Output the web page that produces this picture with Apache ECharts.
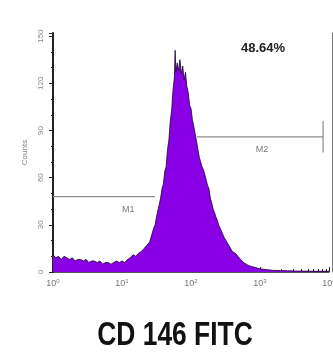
<!DOCTYPE html>
<html>
<head>
<meta charset="utf-8">
<script src="https://cdn.jsdelivr.net/npm/echarts@6/dist/echarts.min.js"></script>
<style>
  html, body { margin: 0; padding: 0; background: #fff; }
  #chart { width: 333px; height: 362px; }
</style>
</head>
<body>
<div id="chart"></div>
<script>
// 荧光强度（log10）与计数
var logBins = [
  0.00, 0.04, 0.08, 0.12, 0.16, 0.20, 0.24, 0.28, 0.32, 0.36,
  0.40, 0.44, 0.48, 0.52, 0.56, 0.60, 0.64, 0.68, 0.72, 0.76,
  0.80, 0.84, 0.88, 0.92, 0.96, 1.00, 1.04, 1.08, 1.12, 1.16,
  1.20, 1.24, 1.28, 1.32, 1.36,
  1.40, 1.42, 1.44, 1.46, 1.48, 1.50, 1.52, 1.54, 1.56, 1.58,
  1.60, 1.62, 1.64, 1.66, 1.68, 1.70, 1.72, 1.74, 1.76, 1.77,
  1.78, 1.80, 1.82, 1.84, 1.86, 1.88, 1.90, 1.92, 1.94, 1.96,
  1.98, 2.00, 2.02, 2.04, 2.06, 2.08, 2.10, 2.12, 2.14, 2.16,
  2.18, 2.20, 2.22, 2.24, 2.26, 2.28, 2.30, 2.32, 2.34, 2.36,
  2.38, 2.40, 2.42, 2.44, 2.46, 2.48, 2.50, 2.52, 2.54, 2.56,
  2.58, 2.60, 2.64, 2.68, 2.72, 2.76, 2.80, 2.84, 2.88, 2.92,
  2.96, 3.00, 3.10, 3.20, 3.30, 3.40, 3.50, 3.60, 3.70, 3.80,
  3.90, 4.00
];
var counts = [
  11, 9, 10, 8, 10, 9, 8, 9, 7, 8,
  8, 7, 8, 6, 7, 7, 6, 7, 5, 6,
  6, 5, 6, 7, 6, 7, 6, 8, 9, 11,
  10, 12, 13, 15, 17,
  19, 22, 23, 28, 30, 35, 36, 43, 47, 53,
  56, 64, 67, 78, 84, 96, 103, 116, 124, 141,
  127, 133, 128, 135, 126, 131, 122, 127, 118, 114,
  106, 104, 97, 96, 88, 89, 78, 73, 70, 67,
  65, 62, 61, 55, 53, 47, 44, 40, 38, 35,
  33, 30, 29, 26, 25, 22, 21, 19, 18, 16,
  15, 13, 12, 10, 8, 6, 5, 4, 3.5, 3,
  2.5, 2, 1.5, 1, 1, 0.8, 0.6, 0.6, 0.5, 0.5,
  0.5, 0.5
];
var yTicks = [0, 30, 60, 90, 120, 150];
// 门控 M1 / M2
var gateM1 = [[1, 48], [30, 48]];
var gateM2 = [[122, 86], [8200, 86]];
var gateM2End = [[8200, 76], [8200, 96]];
var gateLabels = [[12.3, 40, 'M1'], [1070, 78, 'M2']];
var percentText = '48.64%';
var xTitle = 'CD 146 FITC';

var chart = echarts.init(document.getElementById('chart'));

var histData = logBins.map(function (u, i) {
  return [Math.pow(10, u), counts[i]];
});

var gateStyle = { color: '#8c8c8c', width: 1.2 };

var option = {
  animation: false,
  title: {
    text: percentText,
    left: 258, top: 37, textAlign: 'center',
    textStyle: { fontFamily: 'Liberation Sans', fontWeight: 'bold', fontSize: 13, color: '#222' }
  },
  graphic: [{
    type: 'text',
    x: 175, y: 336,
    scaleX: 0.8,
    style: {
      text: xTitle,
      fontFamily: 'Liberation Sans',
      fontWeight: 'bold',
      fontSize: 33,
      fill: '#111',
      align: 'center',
      verticalAlign: 'middle'
    }
  }],
  grid: { left: 53, right: 4, top: 33, bottom: 90, outerBoundsMode: 'none' },
  xAxis: {
    type: 'log',
    logBase: 10,
    min: 1,
    max: 10000,
    axisLine: { lineStyle: { color: '#222', width: 1.5 } },
    axisTick: { inside: true, length: 5, lineStyle: { color: '#222' } },
    minorTick: { show: true, splitNumber: 9, length: 3, lineStyle: { color: '#222' } },
    splitLine: { show: false },
    axisLabel: {
      margin: 6,
      hideOverlap: false,
      formatter: function (v) {
        return '{b|10}{s|' + Math.round(Math.log10(v)) + '}';
      },
      rich: {
        b: { fontSize: 9, color: '#777', fontFamily: 'Liberation Sans' },
        s: { fontSize: 6, color: '#777', verticalAlign: 'top', padding: [0, 0, 6, 0] }
      }
    }
  },
  yAxis: [{
    type: 'value',
    min: 0,
    max: 152,
    interval: 30,
    name: 'Counts',
    nameLocation: 'middle',
    nameGap: 24,
    nameTextStyle: { fontSize: 8, color: '#888', fontFamily: 'Liberation Sans' },
    axisLine: { show: true, lineStyle: { color: '#222', width: 2 } },
    axisTick: { show: true, length: 4, lineStyle: { color: '#222' } },
    minorTick: { show: true, splitNumber: 3, length: 2, lineStyle: { color: '#222' } },
    splitLine: { show: false },
    axisLabel: {
      rotate: 90, fontSize: 8, color: '#888', margin: 8,
      formatter: function (v) { return yTicks.indexOf(v) >= 0 ? String(v) : ''; }
    }
  }, {
    type: 'value',
    position: 'right',
    offset: 3,
    min: 0,
    max: 152,
    axisLine: { show: true, lineStyle: { color: '#777', width: 1 } },
    axisTick: { show: false },
    axisLabel: { show: false },
    splitLine: { show: false }
  }],
  series: [{
    type: 'line',
    data: histData,
    symbol: 'none',
    lineStyle: { color: '#1a0030', width: 0.8 },
    areaStyle: { color: '#8a00e6', opacity: 1 }
  }, {
    type: 'line', data: gateM1, symbol: 'none', lineStyle: gateStyle
  }, {
    type: 'line', data: gateM2, symbol: 'none', lineStyle: gateStyle
  }, {
    type: 'line', data: gateM2End, symbol: 'none', lineStyle: gateStyle
  }, {
    type: 'scatter',
    symbolSize: 0,
    data: gateLabels.map(function (g) { return { value: [g[0], g[1]], name: g[2] }; }),
    label: {
      show: true, position: 'inside', formatter: '{b}',
      fontSize: 9, color: '#555', fontFamily: 'Liberation Sans'
    }
  }]
};

chart.setOption(option);
</script>
</body>
</html>
